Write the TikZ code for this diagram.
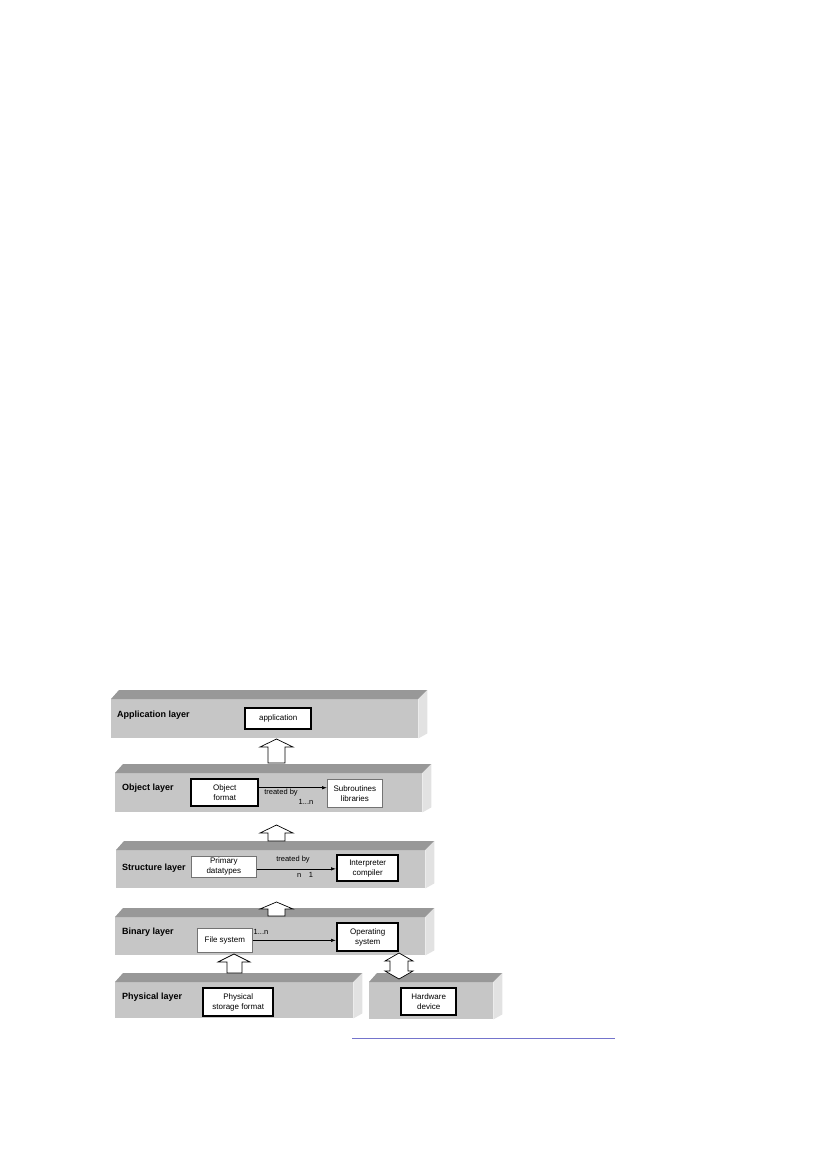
\documentclass[tikz,border=0pt]{standalone}
\usepackage{fontspec}
\setmainfont{Liberation Sans}
\usetikzlibrary{arrows.meta}
\definecolor{frontgray}{RGB}{198,198,198}
\definecolor{topgray}{RGB}{152,152,152}
\definecolor{sidegray}{RGB}{226,226,226}
\definecolor{linkblue}{RGB}{116,116,204}
\tikzset{
	layer/.style={fill=frontgray,anchor=north west,inner sep=0pt},
	topface/.style={fill=topgray},
	sideface/.style={fill=sidegray},
	thickbox/.style={draw,line width=2.4pt,fill=white,align=center,anchor=north west,inner sep=0pt,font=\fontsize{8}{10}\selectfont},
	thinbox/.style={draw=black!55,line width=0.7pt,fill=white,align=center,anchor=north west,inner sep=0pt,font=\fontsize{8}{10}\selectfont},
	lname/.style={anchor=west,inner sep=0pt,font=\bfseries\fontsize{9}{11}\selectfont},
	tag/.style={inner sep=0pt,font=\fontsize{7.5}{9}\selectfont},
	conn/.style={-{Latex[length=5pt,width=3.5pt]},line width=0.7pt},
	blockarrow/.style={draw,fill=white,line width=0.7pt}
}
\newcommand{\slabfaces}[1]{%
	\fill[topface] (#1.north west) -- ++(8,-9) -- ([shift={(9,-9)}]#1.north east) -- (#1.north east) -- cycle;
	\fill[sideface] (#1.north east) -- ([shift={(9,-9)}]#1.north east) -- ([shift={(9,-5)}]#1.south east) -- (#1.south east) -- cycle;}

\begin{document}
\begin{tikzpicture}[x=1pt,y=-1pt]
	\useasboundingbox (0,0) rectangle (826,1169);

	% layers
	\node [layer,minimum width=307pt,minimum height=39pt] (app) at (111,699) {};
	\node [layer,minimum width=307pt,minimum height=39pt] (obj) at (115,773) {};
	\node [layer,minimum width=309pt,minimum height=38pt] (struct) at (116,850) {};
	\node [layer,minimum width=310pt,minimum height=38pt] (bin) at (115,917) {};
	\node [layer,minimum width=238pt,minimum height=36pt] (phys) at (115,982) {};
	\node [layer,minimum width=124pt,minimum height=37pt] (hw) at (369,982) {};
	\slabfaces{app}
	\slabfaces{obj}
	\slabfaces{struct}
	\slabfaces{bin}
	\slabfaces{phys}
	\slabfaces{hw}

	\node [lname] (appname) at (117,715) {Application layer};
	\node [lname] (objname) at (122,788) {Object layer};
	\node [lname] (structname) at (122,868) {Structure layer};
	\node [lname] (binname) at (122,932) {Binary layer};
	\node [lname] (physname) at (122,997) {Physical layer};

	% boxes
	\node [thickbox,minimum width=66pt,minimum height=21pt] (application) at (244,707) {application};
	\node [thickbox,minimum width=67pt,minimum height=27pt] (objfmt) at (190,778) {Object\\format};
	\node [thinbox,minimum width=55pt,minimum height=28pt] (subr) at (327,779) {Subroutines\\libraries};
	\node [thinbox,minimum width=65pt,minimum height=21pt] (prim) at (191,856) {Primary\\datatypes};
	\node [thickbox,minimum width=61pt,minimum height=26pt] (interp) at (336,854) {Interpreter\\compiler};
	\node [thinbox,minimum width=55pt,minimum height=24pt] (filesys) at (197,928) {File system};
	\node [thickbox,minimum width=61pt,minimum height=28pt] (opsys) at (336,922) {Operating\\system};
	\node [thickbox,minimum width=70pt,minimum height=28pt] (physfmt) at (202,987) {Physical\\storage format};
	\node [thickbox,minimum width=55pt,minimum height=27pt] (hwdev) at (400,987) {Hardware\\device};

	% connectors
	\draw [conn] ([yshift=5pt]objfmt.east) -- ([yshift=5pt]objfmt.east -| subr.west);
	\node [tag] (tb1) at (281,793) {treated by};
	\node [tag] (n1) at (306,802) {1...n};
	\draw [conn] ([yshift=-2pt]prim.east) -- ([yshift=-2pt]prim.east -| interp.west);
	\node [tag] (tb2) at (293,860) {treated by};
	\node [tag] (n2) at (305,875) {n\quad1};
	\draw [conn] (filesys.east) -- (filesys.east -| opsys.west);
	\node [tag] (n3) at (261,932) {1...n};

	% block arrows
	\draw [blockarrow] (276.5,739) -- (293,747) -- (285,747) -- (285,763) -- (268,763) -- (268,747) -- (260,747) -- cycle;
	\draw [blockarrow] (276.5,825) -- (293,833) -- (285,833) -- (285,841) -- (268,841) -- (268,833) -- (260,833) -- cycle;
	\draw [blockarrow] (276.5,902) -- (293,909) -- (285,909) -- (285,916) -- (268,916) -- (268,909) -- (260,909) -- cycle;
	\draw [blockarrow] (234,954) -- (250,962) -- (242,962) -- (242,973) -- (227,973) -- (227,962) -- (218,962) -- cycle;
	\draw [blockarrow] (399,953) -- (413,961) -- (408,961) -- (408,971) -- (413,971) -- (399,979) -- (385,971) -- (390,971) -- (390,961) -- (385,961) -- cycle;

	\draw [linkblue,line width=1pt] (352,1038) -- (615,1038);
\end{tikzpicture}
\end{document}
